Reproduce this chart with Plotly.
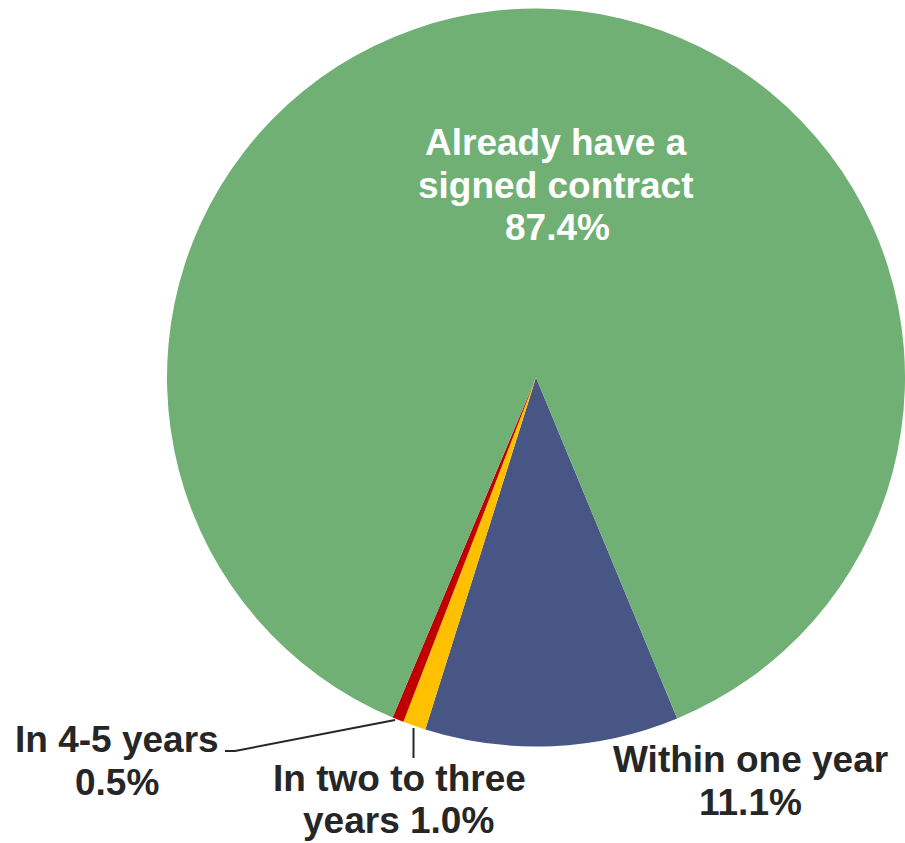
import plotly.graph_objects as go

# Timing of signed contracts (share of respondents, %)
labels = ["Within one year", "In two to three years", "In 4-5 years", "Already have a signed contract"]
values = [11.1, 1.0, 0.5, 87.4]
colors = ["#485685", "#FFC000", "#C00000", "#70B074"]

W, H = 905, 843
FONT = "Liberation Sans, Arial, sans-serif"
FS = 37
DARK = "#262626"

fig = go.Figure()

fig.add_trace(go.Pie(
    labels=labels,
    values=values,
    sort=False,
    direction="clockwise",
    rotation=157.5,
    marker=dict(colors=colors, line=dict(width=0)),
    textinfo="none",
    hoverinfo="label+percent",
    showlegend=False,
    domain=dict(x=[(536 - 369) / W, 1.0], y=[1 - 746.5 / H, 1 - 8.5 / H]),
))

pct = {lab: f"{v:.1f}%" for lab, v in zip(labels, values)}

# label lines: (text, x centre, baseline y, colour)
lines = [
    ("Already have a", 556, 155, "white"),
    ("signed contract", 556, 198, "white"),
    (pct["Already have a signed contract"], 557, 240, "white"),
    ("Within one year", 750, 772, DARK),
    (pct["Within one year"], 750, 815, DARK),
    ("In two to three", 399, 791, DARK),
    ("years " + pct["In two to three years"], 398, 833, DARK),
    ("In 4-5 years", 117, 752, DARK),
    (pct["In 4-5 years"], 117, 795, DARK),
]

for text, x, base, col in lines:
    fig.add_annotation(
        x=x, y=base - 0.3465 * FS, xref="x", yref="y",
        text=f"<b>{text}</b>", showarrow=False,
        xanchor="center", yanchor="middle",
        font=dict(family=FONT, size=FS, color=col),
    )

# leader lines for the two thin slices
fig.add_shape(type="path", path="M 225 751 L 235 751 L 395 720",
              xref="x", yref="y", line=dict(color="#262626", width=2))
fig.add_shape(type="line", x0=413.5, y0=728, x1=413.5, y1=758,
              xref="x", yref="y", line=dict(color="#262626", width=2))

fig.update_xaxes(range=[0, W], visible=False, fixedrange=True)
fig.update_yaxes(range=[H, 0], visible=False, fixedrange=True)

fig.update_layout(
    width=W, height=H,
    margin=dict(l=0, r=0, t=0, b=0),
    paper_bgcolor="white", plot_bgcolor="rgba(0,0,0,0)",
    showlegend=False,
)

fig.write_html("out.html")
